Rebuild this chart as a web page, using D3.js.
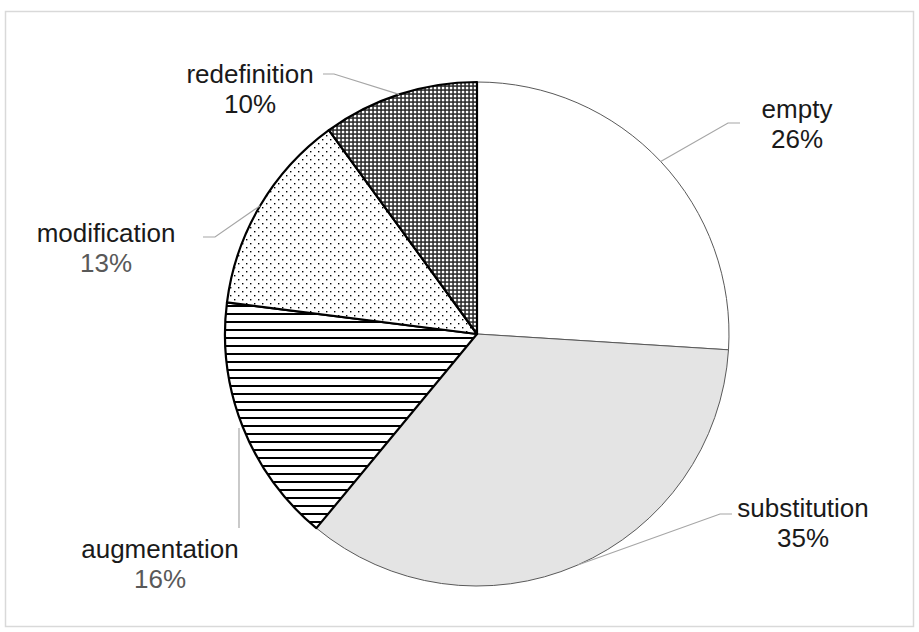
<!DOCTYPE html>
<html>
<head>
<meta charset="utf-8">
<script src="https://cdn.jsdelivr.net/npm/d3@7"></script>
<style>
  body { margin: 0; background: #fff; }
</style>
</head>
<body>
<div id="chart"></div>
<script>
const categories = ["empty", "substitution", "augmentation", "modification", "redefinition"];
const shares = [26, 35, 16, 13, 10];
const pctLabels = ["26%", "35%", "16%", "13%", "10%"];

const width = 919;
const height = 632;
const cx = 477, cy = 334, radius = 252;

// label placement (text centre, baselines) and leader elbow / end points
const labelLayout = {
  empty:        { x: 797, y: 118, pctColor: "#1a1a1a", line: [[728, 123], [740, 123]] },
  substitution: { x: 803, y: 517, pctColor: "#1a1a1a", line: [[720, 514], [732, 514]] },
  augmentation: { x: 160, y: 558, pctColor: "#595959", line: [[239, 428], [239, 528]] },
  modification: { x: 106, y: 242, pctColor: "#595959", line: [[215, 237], [203, 237]] },
  redefinition: { x: 250, y: 83,  pctColor: "#1a1a1a", line: [[334, 74], [323, 74]] }
};

const svg = d3.select("#chart")
  .append("svg")
  .attr("width", width)
  .attr("height", height)
  .style("font-family", "'Liberation Sans', Arial, sans-serif");

svg.append("rect")
  .attr("width", width)
  .attr("height", height)
  .attr("fill", "#fff");

// chart frame
svg.append("rect")
  .attr("x", 5.5)
  .attr("y", 11.5)
  .attr("width", 908)
  .attr("height", 615)
  .attr("fill", "none")
  .attr("stroke", "#d9d9d9")
  .attr("stroke-width", 1.5);

const defs = svg.append("defs");

// narrow horizontal lines
const pHoriz = defs.append("pattern")
  .attr("id", "p-horiz")
  .attr("patternUnits", "userSpaceOnUse")
  .attr("width", 8).attr("height", 8);
pHoriz.append("rect").attr("width", 8).attr("height", 8).attr("fill", "#fff");
pHoriz.append("rect").attr("y", 3).attr("width", 8).attr("height", 2).attr("fill", "#000");

// sparse dots
const pDots = defs.append("pattern")
  .attr("id", "p-dots")
  .attr("patternUnits", "userSpaceOnUse")
  .attr("width", 8).attr("height", 8);
pDots.append("rect").attr("width", 8).attr("height", 8).attr("fill", "#fff");
pDots.append("rect").attr("x", 1).attr("y", 1).attr("width", 1.4).attr("height", 1.4).attr("fill", "#000");
pDots.append("rect").attr("x", 5).attr("y", 5).attr("width", 1.4).attr("height", 1.4).attr("fill", "#000");

// dense grid
const pGrid = defs.append("pattern")
  .attr("id", "p-grid")
  .attr("patternUnits", "userSpaceOnUse")
  .attr("width", 4).attr("height", 4);
pGrid.append("rect").attr("width", 4).attr("height", 4).attr("fill", "#262626");
pGrid.append("rect").attr("x", 0.8).attr("y", 0.8).attr("width", 2.5).attr("height", 2.5).attr("fill", "#fff");

const fills = {
  empty: "#ffffff",
  substitution: "#e4e4e4",
  augmentation: "url(#p-horiz)",
  modification: "url(#p-dots)",
  redefinition: "url(#p-grid)"
};
const patterned = new Set(["augmentation", "modification", "redefinition"]);

const data = categories.map((c, i) => ({ name: c, value: shares[i], pct: pctLabels[i] }));

const pie = d3.pie()
  .sort(null)
  .value(d => d.value);

const arcs = pie(data);

const arc = d3.arc()
  .innerRadius(0)
  .outerRadius(radius);

const g = svg.append("g")
  .attr("transform", `translate(${cx},${cy})`);

// plain slices first, patterned (thick outline) on top
const ordered = arcs.filter(a => !patterned.has(a.data.name))
  .concat(arcs.filter(a => patterned.has(a.data.name)));

g.selectAll("path.slice")
  .data(ordered)
  .join("path")
  .attr("class", "slice")
  .attr("d", arc)
  .attr("fill", d => fills[d.data.name])
  .attr("stroke", d => patterned.has(d.data.name) ? "#000" : "#595959")
  .attr("stroke-width", d => patterned.has(d.data.name) ? 2.2 : 1)
  .attr("stroke-linejoin", "round");

// leader lines
arcs.forEach(a => {
  const lay = labelLayout[a.data.name];
  const mid = (a.startAngle + a.endAngle) / 2;
  const start = [cx + radius * Math.sin(mid), cy - radius * Math.cos(mid)];
  let pts = [start].concat(lay.line);
  if (a.data.name === "augmentation") pts = lay.line;
  svg.append("path")
    .attr("d", d3.line()(pts))
    .attr("fill", "none")
    .attr("stroke", "#a6a6a6")
    .attr("stroke-width", 1.2);
});

// labels
arcs.forEach(a => {
  const lay = labelLayout[a.data.name];
  const t = svg.append("text")
    .attr("text-anchor", "middle")
    .style("font-size", "26px");
  t.append("tspan")
    .attr("x", lay.x)
    .attr("y", lay.y)
    .attr("fill", "#1a1a1a")
    .text(a.data.name);
  t.append("tspan")
    .attr("x", lay.x)
    .attr("y", lay.y + 30)
    .attr("fill", lay.pctColor)
    .text(a.data.pct);
});
</script>
</body>
</html>
